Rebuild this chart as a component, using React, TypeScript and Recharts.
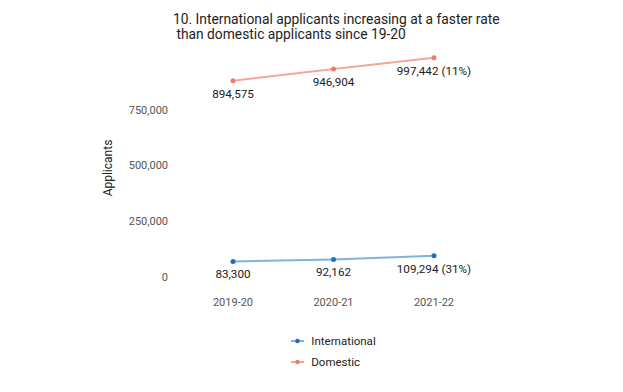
import { Label, LabelList, Legend, Line, LineChart, XAxis, YAxis } from "recharts";

const years = ["2019-20", "2020-21", "2021-22"];
const international = [83300, 92162, 109294];
const domestic = [894575, 946904, 997442];
const internationalChange = ["", "", "31%"];
const domesticChange = ["", "", "11%"];
const yTicks = [0, 250000, 500000, 750000];

const data = years.map((year, i) => ({
  year,
  international: international[i],
  domestic: domestic[i],
}));

const FONT = "Roboto, 'Noto Sans', sans-serif";

const series = [
  { key: "international", name: "International", line: "#7fb3e0", dot: "#1f6fbf", change: internationalChange },
  { key: "domestic", name: "Domestic", line: "#f5a697", dot: "#ef7b6b", change: domesticChange },
];

function pointLabel(change: string[]) {
  return (props: any) => {
    const { x, y, value, index } = props;
    const suffix = change[index] ? ` (${change[index]})` : "";
    return (
      <text x={x} y={y + 13} textAnchor="middle" dominantBaseline="central" fontSize={11.7} fill="#222" fontFamily={FONT}>
        {Number(value).toLocaleString("en-US")}
        {suffix}
      </text>
    );
  };
}

function LegendBox() {
  return (
    <div style={{ display: "flex", flexDirection: "column", alignItems: "center" }}>
      <div>
        {series.map((s) => (
          <div key={s.key} style={{ display: "flex", alignItems: "center", height: 21, fontFamily: FONT, fontSize: 11.5, color: "#222" }}>
            <svg width={13} height={6} style={{ marginRight: 7 }}>
              <line x1={0} y1={3} x2={13} y2={3} stroke={s.line} strokeWidth={2} />
              <circle cx={6.5} cy={3} r={2.3} fill={s.dot} />
            </svg>
            {s.name}
          </div>
        ))}
      </div>
    </div>
  );
}

export default function App() {
  return (
    <div style={{ position: "absolute", left: 0, top: 0, width: 623, height: 392, background: "#fff" }}>
      <div
        style={{
          position: "absolute",
          left: 173,
          top: 12,
          fontFamily: FONT,
          fontSize: 13.8,
          lineHeight: "14.5px",
          color: "#222",
          whiteSpace: "pre",
        }}
      >
        {"10. International applicants increasing at a faster rate\n than domestic applicants since 19-20"}
      </div>
      <LineChart width={623} height={392} data={data} margin={{ top: 46, right: 132, bottom: 72, left: 40 }}>
        <XAxis
          dataKey="year"
          axisLine={false}
          tickLine={false}
          tickSize={0}
          tickMargin={18}
          height={40}
          padding={{ left: 57, right: 57 }}
          tick={{ fill: "#555", fontSize: 11, fontFamily: FONT }}
        />
        <YAxis
          domain={[0, 1050000]}
          ticks={yTicks}
          axisLine={false}
          tickLine={false}
          tickSize={0}
          tickMargin={8}
          width={136}
          tick={{ fill: "#555", fontSize: 11, fontFamily: FONT, dy: -3 }}
          tickFormatter={(v) => Number(v).toLocaleString("en-US")}
        >
          <Label
            content={(props: any) => {
              const vb = props.viewBox || {};
              const cx = vb.x + 68;
              const cy = vb.y + vb.height / 2 + 5;
              return (
                <text
                  x={cx}
                  y={cy}
                  transform={`rotate(-90 ${cx} ${cy})`}
                  textAnchor="middle"
                  dominantBaseline="central"
                  fontSize={12}
                  fill="#222"
                  fontFamily={FONT}
                >
                  Applicants
                </text>
              );
            }}
          />
        </YAxis>
        <Legend
          layout="vertical"
          align="center"
          verticalAlign="middle"
          wrapperStyle={{ top: 330, left: 176, width: 315 }}
          content={() => <LegendBox />}
        />
        {series.map((s) => (
          <Line
            key={s.key}
            dataKey={s.key}
            name={s.name}
            stroke={s.line}
            strokeWidth={2}
            dot={{ r: 2.5, fill: s.dot, stroke: s.dot, strokeWidth: 0 }}
            activeDot={false}
            isAnimationActive={false}
          >
            <LabelList dataKey={s.key} content={pointLabel(s.change)} />
          </Line>
        ))}
      </LineChart>
    </div>
  );
}
